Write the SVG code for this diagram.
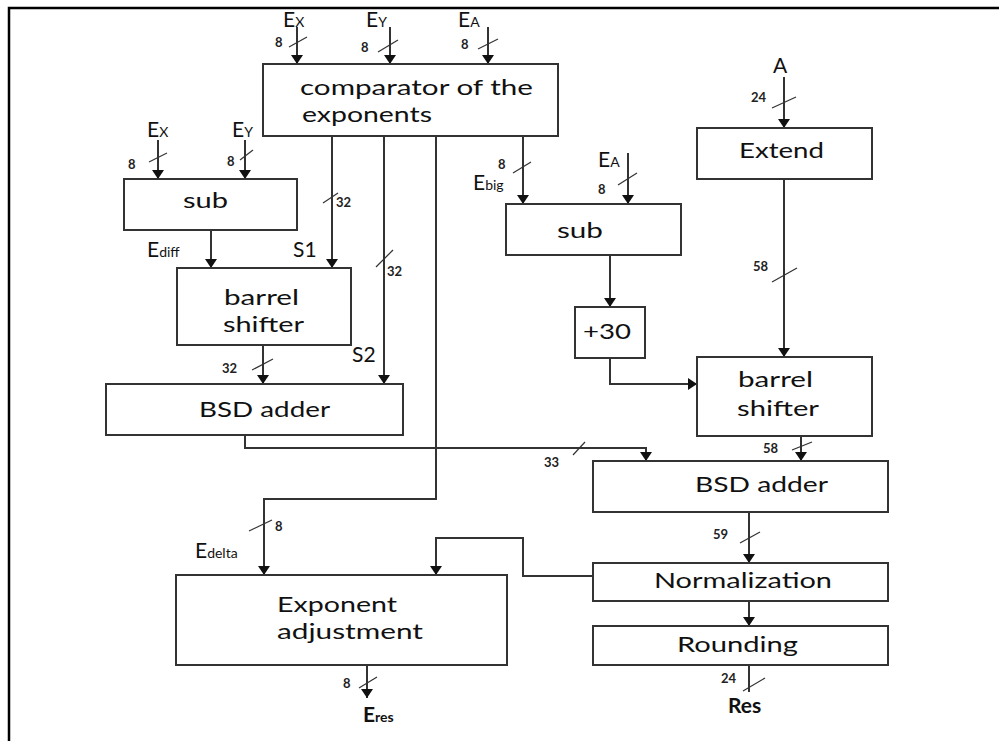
<svg xmlns="http://www.w3.org/2000/svg" width="999" height="741" viewBox="0 0 999 741">
<defs>
<marker id="ah" markerUnits="userSpaceOnUse" markerWidth="9" markerHeight="12" refX="9" refY="6" orient="auto">
<path d="M0,0 L9,6 L0,12 z" fill="#111"/>
</marker>
<style>
.box{fill:#fff;stroke:#333;stroke-width:2}
.wire{fill:none;stroke:#333;stroke-width:2}
.arr{marker-end:url(#ah)}
.sl{stroke:#333;stroke-width:1.2}
.t{font-family:Lato,"Open Sans","Liberation Sans",sans-serif;font-size:22px;fill:#111}
.n{font-family:Lato,"Open Sans","Liberation Sans",sans-serif;font-size:13px;font-weight:bold;fill:#222}
.e{font-family:Lato,"Open Sans","Liberation Sans",sans-serif;font-size:21px;fill:#111}
.s{font-size:14px}
.lbl{font-family:Lato,"Open Sans","Liberation Sans",sans-serif;font-size:21px;fill:#111}
</style>
</defs>
<rect x="0" y="0" width="999" height="741" fill="#fff"/>
<path d="M9,741 V8 H999" fill="none" stroke="#000" stroke-width="2.5"/>

<g id="connectors">
<path class="wire arr" d="M297,27 V64"/>
<path class="wire arr" d="M390,27 V64"/>
<path class="wire arr" d="M488,27 V64"/>
<path class="wire arr" d="M158,140 V179"/>
<path class="wire arr" d="M245,140 V179"/>
<path class="wire arr" d="M211,230 V268"/>
<path class="wire arr" d="M332,136 V268"/>
<path class="wire arr" d="M384,136 V384"/>
<path class="wire arr" d="M263,345 V384"/>
<path class="wire arr" d="M245,435 V448 H646 V461"/>
<path class="wire arr" d="M436,136 V499 H264 V575"/>
<path class="wire arr" d="M523,136 V204"/>
<path class="wire arr" d="M628,153 V204"/>
<path class="wire arr" d="M610,255 V307"/>
<path class="wire arr" d="M610,358 V384 H697"/>
<path class="wire arr" d="M784,77 V128"/>
<path class="wire arr" d="M784,179 V357"/>
<path class="wire arr" d="M801,436 V461"/>
<path class="wire arr" d="M749,512 V563"/>
<path class="wire arr" d="M749,601 V626"/>
<path class="wire" d="M749,665 V692"/>
<path class="wire arr" d="M593,576 H523 V538 H436 V575"/>
<path class="wire arr" d="M367,665 V698"/>
<g id="slashes">
<line class="sl" x1="289" y1="47" x2="307" y2="37"/>
<line class="sl" x1="378" y1="52" x2="398" y2="40"/>
<line class="sl" x1="478" y1="49" x2="498" y2="39"/>
<line class="sl" x1="149" y1="162" x2="167" y2="153"/>
<line class="sl" x1="240" y1="160" x2="253" y2="150"/>
<line class="sl" x1="323" y1="203" x2="338" y2="193"/>
<line class="sl" x1="376" y1="267" x2="393" y2="250"/>
<line class="sl" x1="252" y1="370" x2="273" y2="359"/>
<line class="sl" x1="513" y1="173" x2="531" y2="162"/>
<line class="sl" x1="618" y1="185" x2="637" y2="173"/>
<line class="sl" x1="772" y1="108" x2="796" y2="97"/>
<line class="sl" x1="772" y1="282" x2="797" y2="268"/>
<line class="sl" x1="792" y1="450" x2="812" y2="442"/>
<line class="sl" x1="573" y1="455" x2="585" y2="442"/>
<line class="sl" x1="740" y1="543" x2="760" y2="532"/>
<line class="sl" x1="743" y1="691" x2="765" y2="678"/>
<line class="sl" x1="249" y1="531" x2="272" y2="520"/>
<line class="sl" x1="359" y1="688" x2="377" y2="677"/>
</g>
</g>

<g id="comparator">
<rect class="box" x="263" y="64" width="295" height="72"/>
<text class="t" x="300" y="95" textLength="233" lengthAdjust="spacingAndGlyphs">comparator of the</text>
<text class="t" x="302" y="122" textLength="130" lengthAdjust="spacingAndGlyphs">exponents</text>
</g>
<g id="sub1">
<rect class="box" x="124" y="179" width="173" height="51"/>
<text class="t" x="183" y="208" textLength="45" lengthAdjust="spacingAndGlyphs">sub</text>
</g>
<g id="barrel1">
<rect class="box" x="177" y="268" width="174" height="77"/>
<text class="t" x="224" y="305" textLength="75" lengthAdjust="spacingAndGlyphs">barrel</text>
<text class="t" x="223" y="332" textLength="81" lengthAdjust="spacingAndGlyphs">shifter</text>
</g>
<g id="bsd1">
<rect class="box" x="106" y="384" width="297" height="51"/>
<text class="t" x="199" y="417" textLength="131" lengthAdjust="spacingAndGlyphs">BSD adder</text>
</g>
<g id="sub2">
<rect class="box" x="506" y="204" width="175" height="51"/>
<text class="t" x="557" y="238" textLength="46" lengthAdjust="spacingAndGlyphs">sub</text>
</g>
<g id="plus30">
<rect class="box" x="575" y="307" width="70" height="51"/>
<text class="t" x="583" y="339" textLength="48" lengthAdjust="spacingAndGlyphs">+30</text>
</g>
<g id="extend">
<rect class="box" x="697" y="128" width="175" height="51"/>
<text class="t" x="739" y="158" textLength="85" lengthAdjust="spacingAndGlyphs">Extend</text>
</g>
<g id="barrel2">
<rect class="box" x="697" y="357" width="175" height="79"/>
<text class="t" x="738" y="387" textLength="75" lengthAdjust="spacingAndGlyphs">barrel</text>
<text class="t" x="737" y="416" textLength="82" lengthAdjust="spacingAndGlyphs">shifter</text>
</g>
<g id="bsd2">
<rect class="box" x="593" y="461" width="295" height="51"/>
<text class="t" x="695" y="492" textLength="133" lengthAdjust="spacingAndGlyphs">BSD adder</text>
</g>
<g id="normalization">
<rect class="box" x="593" y="563" width="295" height="38"/>
<text class="t" x="654" y="588" textLength="178" lengthAdjust="spacingAndGlyphs">Normalization</text>
</g>
<g id="rounding">
<rect class="box" x="593" y="626" width="295" height="39"/>
<text class="t" x="677" y="652" textLength="121" lengthAdjust="spacingAndGlyphs">Rounding</text>
</g>
<g id="expadj">
<rect class="box" x="176" y="575" width="331" height="90"/>
<text class="t" x="277" y="612" textLength="120" lengthAdjust="spacingAndGlyphs">Exponent</text>
<text class="t" x="277" y="639" textLength="146" lengthAdjust="spacingAndGlyphs">adjustment</text>
</g>

<g id="labels">
<text class="e" x="283" y="27">E<tspan class="s">X</tspan></text>
<text class="e" x="366" y="27">E<tspan class="s">Y</tspan></text>
<text class="e" x="458" y="27">E<tspan class="s">A</tspan></text>
<text class="n" x="275" y="47">8</text>
<text class="n" x="361" y="52">8</text>
<text class="n" x="461" y="49">8</text>
<text class="e" x="147" y="137">E<tspan class="s">X</tspan></text>
<text class="e" x="232" y="137">E<tspan class="s">Y</tspan></text>
<text class="n" x="128" y="169">8</text>
<text class="n" x="227" y="166">8</text>
<text class="n" x="336" y="207">32</text>
<text class="n" x="387" y="276">32</text>
<text class="n" x="222" y="373">32</text>
<text class="lbl" x="293" y="257">S1</text>
<text class="lbl" x="352" y="362">S2</text>
<text class="e" x="147" y="257">E<tspan class="s">diff</tspan></text>
<text class="n" x="498" y="169">8</text>
<text class="e" x="473" y="190">E<tspan class="s">big</tspan></text>
<text class="e" x="598" y="167">E<tspan class="s">A</tspan></text>
<text class="n" x="598" y="194">8</text>
<text class="lbl" x="773" y="73">A</text>
<text class="n" x="751" y="102">24</text>
<text class="n" x="753" y="271">58</text>
<text class="n" x="763" y="453">58</text>
<text class="n" x="544" y="467">33</text>
<text class="n" x="713" y="539">59</text>
<text class="n" x="721" y="683">24</text>
<text class="lbl" x="728" y="713" font-weight="bold">Res</text>
<text class="n" x="343" y="688">8</text>
<text class="e" x="363" y="722" font-weight="bold">E<tspan class="s">res</tspan></text>
<text class="e" x="195" y="558">E<tspan class="s">delta</tspan></text>
<text class="n" x="275" y="531">8</text>
</g>
</svg>
